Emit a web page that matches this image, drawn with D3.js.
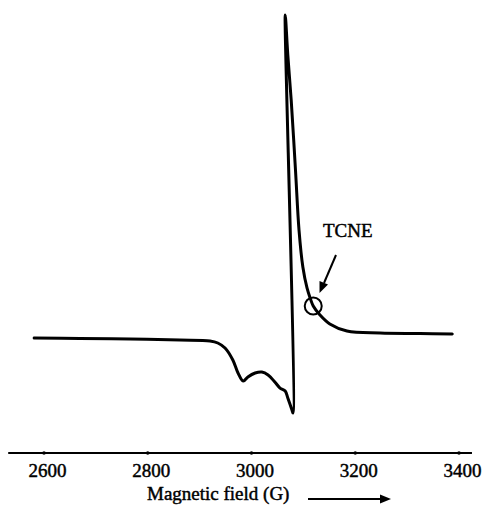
<!DOCTYPE html>
<html>
<head>
<meta charset="utf-8">
<script src="https://cdn.jsdelivr.net/npm/d3@7"></script>
<style>
  html, body { margin: 0; padding: 0; background: #fff; }
  svg { display: block; }
  text { font-family: "Liberation Serif", "Times New Roman", serif; fill: #000; stroke: #000; stroke-width: 0.45px; }
</style>
</head>
<body>
<svg id="chart" width="483" height="510"></svg>
<script>
// Magnetic field (G) along the trace, in drawing order
const field = [2581, 2669, 2766, 2862, 2920, 2935, 2949, 2964, 2974, 2984,
  2993, 3007, 3020, 3032, 3045, 3055, 3065, 3070, 3078, 3080,
  3065,
  3070, 3076.5, 3084.8, 3091.6, 3099, 3107, 3113, 3119, 3132, 3151, 3184, 3248, 3325, 3387];
// EPR derivative signal (arbitrary units)
const signal = [-5.3, -5.8, -6.3, -7.3, -8.3, -10.3, -15.4, -27.5, -40.6, -48.7,
  -44.6, -40.6, -39.6, -42.6, -49.7, -55.8, -58.8, -65.9, -78, -81,
  321,
  280.6, 235.2, 164.4, 103.8, 66.5, 45.3, 35.2, 27.1, 18, 8.9, 1.8, -0.2, -0.7, -1.2];
const tickValues = [2600, 2800, 3000, 3200, 3400];
const tickLabels = ["2600", "2800", "3000", "3200", "3400"];
const axisExtent = [2531, 3425];
const markerLabel = "TCNE";
const markerPoint = [3119, 27];
const xTitle = "Magnetic field (G)";

const svg = d3.select("#chart");
const x = d3.scaleLinear().domain([2600, 3400]).range([44, 459]);
const y = d3.scaleLinear().domain([-80, 320]).range([412, 16]);
const axisY = 453;

// spectrum trace
const pts = field.map((f, i) => [f, signal[i]]);
svg.append("path")
  .datum(pts)
  .attr("d", d3.line().x(d => x(d[0])).y(d => y(d[1])).curve(d3.curveCatmullRom.alpha(0.5)))
  .attr("fill", "none")
  .attr("stroke", "#000")
  .attr("stroke-width", 3)
  .attr("stroke-linejoin", "round")
  .attr("stroke-linecap", "round");

// axis baseline
svg.append("line")
  .attr("x1", x(axisExtent[0])).attr("x2", x(axisExtent[1]))
  .attr("y1", axisY).attr("y2", axisY)
  .attr("stroke", "#000").attr("stroke-width", 2.2);

const axis = d3.axisBottom(x)
  .tickValues(tickValues)
  .tickFormat((d, i) => tickLabels[i])
  .tickSize(0)
  .tickPadding(11);
const ax = svg.append("g").attr("transform", `translate(0,${axisY})`).call(axis);
ax.select(".domain").remove();
ax.selectAll("text")
  .attr("dx", 3)
  .attr("fill", "#000")
  .style("font-family", '"Liberation Serif", serif')
  .style("font-size", "19px")
  .style("stroke", "#000")
  .style("stroke-width", "0.45px");

// small tick dots on the axis
svg.selectAll("circle.tk").data(tickValues).enter().append("circle")
  .attr("class", "tk")
  .attr("cx", d => x(d)).attr("cy", axisY).attr("r", 1.8).attr("fill", "#000");

// axis title with arrow
svg.append("text")
  .attr("x", 147).attr("y", 500)
  .style("font-size", "19px")
  .text(xTitle);
svg.append("line")
  .attr("x1", 308).attr("x2", 382).attr("y1", 499).attr("y2", 499)
  .attr("stroke", "#000").attr("stroke-width", 1.8);
svg.append("path")
  .attr("d", "M380,494.5 L391,499 L380,503.5 Z")
  .attr("fill", "#000");

// TCNE annotation
const cx = x(markerPoint[0]), cy = y(markerPoint[1]);
svg.append("circle")
  .attr("cx", cx).attr("cy", cy).attr("r", 8.5)
  .attr("fill", "none").attr("stroke", "#000").attr("stroke-width", 2);
svg.append("text")
  .attr("x", 323).attr("y", 237)
  .style("font-size", "19px")
  .text(markerLabel);
svg.append("line")
  .attr("x1", 336).attr("y1", 255).attr("x2", 324).attr("y2", 283)
  .attr("stroke", "#000").attr("stroke-width", 2);
svg.append("path")
  .attr("d", "M319.5,293 L319.5,281 L328,284.5 Z")
  .attr("fill", "#000");
</script>
</body>
</html>
